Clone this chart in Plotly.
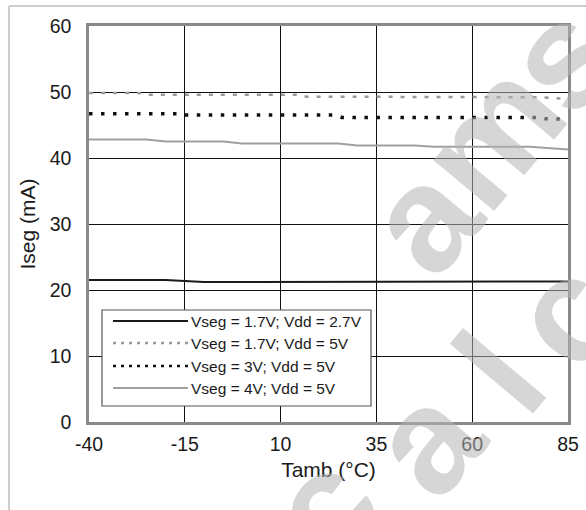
import plotly.graph_objects as go

# ---- data ----
x_a = [-40, -20, -10, 70, 85]
y_a = [21.5, 21.5, 21.2, 21.2, 21.3]          # Vseg = 1.7V; Vdd = 2.7V

x_b = [-40, -27, -25, 14, 16, 62, 64, 78, 85]
y_b = [49.85, 49.85, 49.6, 49.6, 49.3, 49.3, 49.25, 49.2, 48.95]   # Vseg = 1.7V; Vdd = 5V

x_c = [-40, -16, -15, 24, 26, 77, 79, 85]
y_c = [46.7, 46.7, 46.5, 46.5, 46.15, 46.15, 45.95, 45.9]         # Vseg = 3V; Vdd = 5V

x_d = [-40, -25, -20, -5, 0, 25, 30, 45, 50, 75, 85]
y_d = [42.8, 42.8, 42.5, 42.5, 42.2, 42.2, 41.9, 41.9, 41.7, 41.7, 41.3]  # Vseg = 4V; Vdd = 5V

names = ["Vseg = 1.7V; Vdd = 2.7V", "Vseg = 1.7V; Vdd = 5V",
         "Vseg = 3V; Vdd = 5V", "Vseg = 4V; Vdd = 5V"]
x_ticks = [-40, -15, 10, 35, 60, 85]
y_ticks = [0, 10, 20, 30, 40, 50, 60]

watermark_letters = ["a", "m", "s", "c", "a", "l", "c"]

FONT = "Liberation Sans, Arial, sans-serif"
styles = [
    dict(color="#1a1a1a", width=2, dash="solid"),
    dict(color="#9a9a9a", width=2.5, dash="4px,8px"),
    dict(color="#111111", width=3.5, dash="3.5px,8.5px"),
    dict(color="#a0a0a0", width=2, dash="solid"),
]

fig = go.Figure()
for xs, ys, nm, st in zip([x_a, x_b, x_c, x_d], [y_a, y_b, y_c, y_d], names, styles):
    fig.add_trace(go.Scatter(x=xs, y=ys, mode="lines", name=nm, line=st,
                             showlegend=False, hoverinfo="skip"))

W, H = 586, 510
L, R, T, B = 89, 18, 26, 88
pw, ph = W - L - R, H - T - B

def px(xp):
    return (xp - L) / pw

def py(yp):
    return (H - B - yp) / ph

shapes = []
annotations = []

# outer light frame (top and left)
shapes.append(dict(type="line", xref="paper", yref="paper", x0=px(9), x1=px(590),
                   y0=py(6), y1=py(6), line=dict(color="#bdbdbd", width=1.5)))
shapes.append(dict(type="line", xref="paper", yref="paper", x0=px(9), x1=px(9),
                   y0=py(6), y1=py(515), line=dict(color="#bdbdbd", width=1.5)))

# legend box
shapes.append(dict(type="rect", xref="paper", yref="paper", x0=px(102), x1=px(371),
                   y0=py(406), y1=py(310), fillcolor="white",
                   line=dict(color="#555555", width=1.2), layer="above"))
row_y = [321, 343, 366, 388]
for nm, st, ry in zip(names, styles, row_y):
    shapes.append(dict(type="line", xref="paper", yref="paper", x0=px(113), x1=px(188),
                       y0=py(ry), y1=py(ry), layer="above",
                       line=dict(color=st["color"], width=min(st["width"], 2.5),
                                 dash=st["dash"] if st["dash"] == "solid" else "3px,5px")))
    annotations.append(dict(xref="paper", yref="paper", x=px(189), y=py(ry), text=nm,
                            showarrow=False, xanchor="left", yanchor="middle",
                            font=dict(family=FONT, size=15.5, color="#1a1a1a")))

# watermark letters (page-pixel centres)
WM = "rgba(180,180,180,0.55)"
wm_pos = [(422, 218), (490, 135), (560, 58), (322, 508), (425, 440), (500, 372), (565, 314)]
for ch, (cx, cy) in zip(watermark_letters, wm_pos):
    annotations.append(dict(xref="paper", yref="paper", x=px(cx), y=py(cy), text="<b>" + ch + "</b>",
                            showarrow=False, textangle=-50, xanchor="center", yanchor="middle",
                            font=dict(family=FONT, size=150, color=WM)))

fig.update_layout(
    width=W, height=H,
    margin=dict(l=L, r=R, t=T, b=B, pad=0, autoexpand=False),
    paper_bgcolor="white", plot_bgcolor="white",
    font=dict(family=FONT, color="#1a1a1a"),
    shapes=shapes, annotations=annotations,
    showlegend=False,
)
fig.update_xaxes(range=[-40, 85], tickvals=x_ticks, ticktext=[str(v) for v in x_ticks],
                 showgrid=True, gridcolor="#111111", gridwidth=1, automargin=False,
                 showline=True, mirror=True, linecolor="#8a8a8a", linewidth=2.5,
                 ticks="outside", ticklen=3, tickcolor="rgba(0,0,0,0)",
                 tickfont=dict(size=19.5), zeroline=False,
                 title=dict(text="Tamb (°C)", font=dict(size=21), standoff=9))
fig.update_yaxes(range=[0, 60], tickvals=y_ticks,
                 showgrid=True, gridcolor="#111111", gridwidth=1, automargin=False,
                 showline=True, mirror=True, linecolor="#8a8a8a", linewidth=2.5,
                 ticks="outside", ticklen=11, tickcolor="rgba(0,0,0,0)",
                 tickfont=dict(size=19.5), zeroline=False,
                 title=dict(text="Iseg (mA)", font=dict(size=21), standoff=9))

fig.write_html("out.html", config={"displayModeBar": False},
               post_script="document.body.style.margin='0px';document.body.style.overflow='hidden';")
